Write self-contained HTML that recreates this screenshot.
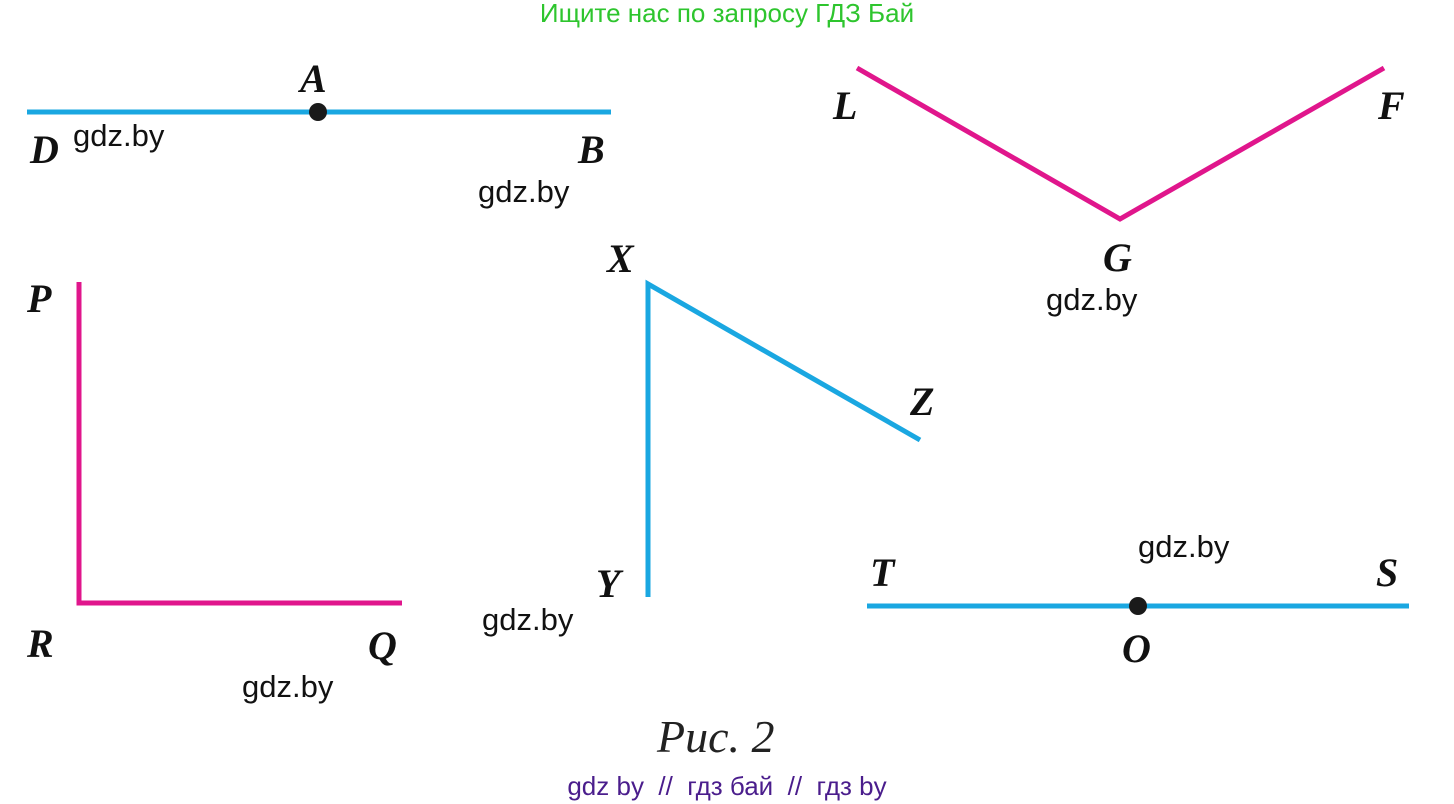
<!DOCTYPE html>
<html><head><meta charset="utf-8"><style>
html,body{margin:0;padding:0;background:#fff;}
svg{display:block;}
.l{font-family:"Liberation Serif",serif;font-style:italic;font-weight:bold;font-size:40px;fill:#111;}
.g{font-family:"Liberation Sans",sans-serif;font-size:31px;fill:#111;}
</style></head><body>
<svg width="1454" height="804" viewBox="0 0 1454 804" xmlns="http://www.w3.org/2000/svg">
<text x="727" y="22" text-anchor="middle" font-family="Liberation Sans, sans-serif" font-size="26" fill="#2ec52e">Ищите нас по запросу ГДЗ Бай</text>
<g fill="none" stroke-width="5" stroke-linecap="butt" stroke-linejoin="miter">
<line x1="27" y1="112" x2="611" y2="112" stroke="#1aa7e1"/>
<polyline points="857,68 1120,219 1384,68" stroke="#e0168c"/>
<polyline points="79,282 79,603 402,603" stroke="#e0168c"/>
<polyline points="648,597 648,284 920,440" stroke="#1aa7e1"/>
<line x1="867" y1="606" x2="1409" y2="606" stroke="#1aa7e1"/>
</g>
<circle cx="318" cy="112" r="9" fill="#1a1a1a"/>
<circle cx="1138" cy="606" r="9" fill="#1a1a1a"/>
<text class="l" x="300" y="92">A</text>
<text class="l" x="30" y="163">D</text>
<text class="l" x="578" y="163">B</text>
<text class="l" x="833" y="119">L</text>
<text class="l" x="1378" y="119">F</text>
<text class="l" x="1103" y="271">G</text>
<text class="l" x="27" y="312">P</text>
<text class="l" x="607" y="272">X</text>
<text class="l" x="910" y="415">Z</text>
<text class="l" x="596" y="597">Y</text>
<text class="l" x="27" y="657">R</text>
<text class="l" x="368" y="659">Q</text>
<text class="l" x="870" y="586">T</text>
<text class="l" x="1376" y="586">S</text>
<text class="l" x="1122" y="662">O</text>
<text class="g" x="73" y="146">gdz.by</text>
<text class="g" x="478" y="202">gdz.by</text>
<text class="g" x="1046" y="310">gdz.by</text>
<text class="g" x="1138" y="557">gdz.by</text>
<text class="g" x="482" y="630">gdz.by</text>
<text class="g" x="242" y="697">gdz.by</text>
<text x="657" y="752" font-family="Liberation Serif, serif" font-style="italic" font-size="46" fill="#222">Рис. 2</text>
<text x="727" y="795" text-anchor="middle" font-family="Liberation Sans, sans-serif" font-size="26" fill="#4a1d8c" xml:space="preserve">gdz by  //  гдз бай  //  гдз by</text>
</svg>
</body></html>
